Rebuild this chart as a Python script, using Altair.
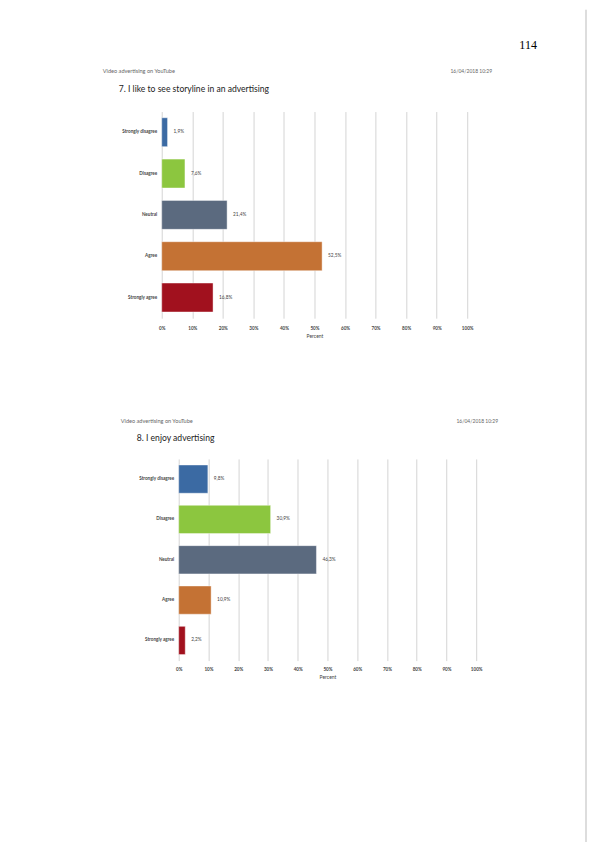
import altair as alt
import pandas as pd

answers = ['Strongly disagree', 'Disagree', 'Neutral', 'Agree', 'Strongly agree']
bar_colors = ['#3b6aa3', '#8cc63f', '#5b6a7f', '#c47234', '#a1111e']
q7_pct = [1.9, 7.6, 21.4, 52.5, 16.8]
q8_pct = [9.8, 30.9, 46.3, 10.9, 2.2]
tick_values = [0, 10, 20, 30, 40, 50, 60, 70, 80, 90, 100]

q7_title = '7. I like to see storyline in an advertising'
q8_title = '8. I enjoy advertising'
survey_name = 'Video advertising on YouTube'
stamp = '16/04/2018 10:29'
page_no = '114'

FONT = 'Lato'


def text_bit(txt, x, y, size, color='#555555', align='left', weight='normal',
             font=FONT, baseline='middle'):
    return alt.Chart(pd.DataFrame({'t': [txt]})).mark_text(
        align=align, baseline=baseline, fontSize=size, color=color,
        font=font, fontWeight=weight
    ).encode(x=alt.value(x), y=alt.value(y), text='t:N')


def panel(pct, title, left, width, height, head, lab_pad, extra=None):
    df = pd.DataFrame({
        'answer': answers,
        'pct': pct,
        'label': [f'{v:.1f}'.replace('.', ',') + '%' for v in pct],
    })
    x = alt.X('pct:Q', title='Percent',
              scale=alt.Scale(domain=[0, 100], range=[left, left + width], nice=False),
              axis=alt.Axis(values=tick_values, tickCount=11,
                            labelExpr="datum.value + '%'",
                            labelOverlap=False, labelFlush=False,
                            grid=True, gridColor='#d4d4d4', gridWidth=1,
                            domain=False, ticks=False, labelPadding=lab_pad,
                            labelFontSize=4.6, labelFont=FONT, labelFontWeight='bold',
                            labelColor='#444444', titleFontSize=5, titleFont=FONT,
                            titleFontWeight='normal', titleColor='#444444',
                            titlePadding=3.5))
    y = alt.Y('answer:N', sort=answers, title=None,
              scale=alt.Scale(paddingInner=0.3, paddingOuter=0.15),
              axis=alt.Axis(domain=False, ticks=False, labelPadding=5, offset=-left,
                            labelFontSize=4.6, labelFont=FONT, labelFontWeight='bold',
                            labelColor='#444444'))
    base = alt.Chart(df)
    bars = base.mark_bar(stroke='#ffffff', strokeWidth=0.6, strokeOpacity=0.7).encode(
        x=x, y=y,
        color=alt.Color('answer:N', legend=None,
                        scale=alt.Scale(domain=answers, range=bar_colors)),
    )
    labels = base.mark_text(align='left', dx=6, fontSize=4.8, font=FONT,
                            color='#444444').encode(x=x, y=y, text='label:N')
    hx, hy, dx_right, tx, ty = head
    layers = [
        bars, labels,
        text_bit(survey_name, hx, hy, 5.6, color='#666666'),
        text_bit(stamp, dx_right, hy, 5, color='#666666', align='right'),
        text_bit(title, tx, ty, 8.6, color='#222222'),
    ]
    if extra:
        layers = extra + layers
    return alt.layer(*layers).properties(width=left + width, height=height)


# page furniture, relative to the first panel's origin (page 162, 110)
anchor = alt.Chart(pd.DataFrame({'a': [0]})).mark_rect(opacity=0).encode(
    x=alt.value(-154), x2=alt.value(-153), y=alt.value(-102), y2=alt.value(-101))
edge = alt.Chart(pd.DataFrame({'a': [0]})).mark_rule(color='#aaaaaa', strokeWidth=0.8).encode(
    x=alt.value(425), y=alt.value(-102), y2=alt.value(732))
number = text_bit(page_no, 367, -63, 12, color='#000000', align='center',
                  font='Liberation Serif', baseline='alphabetic')

p7 = panel(q7_pct, q7_title, 0, 306, 207, (-59, -41, 331, -43, -23), 7.5,
           extra=[anchor, edge, number])
p8 = panel(q8_pct, q8_title, 17, 298, 202, (-41, -38, 337, -25, -21), 5.7)

chart = alt.vconcat(p7, p8, spacing=141, bounds='flush').properties(
    padding=0, background='white'
).configure_view(stroke=None).resolve_scale(x='independent', y='independent', color='shared')

chart.save("out.html", embed_options={"renderer": "svg", "actions": False})
